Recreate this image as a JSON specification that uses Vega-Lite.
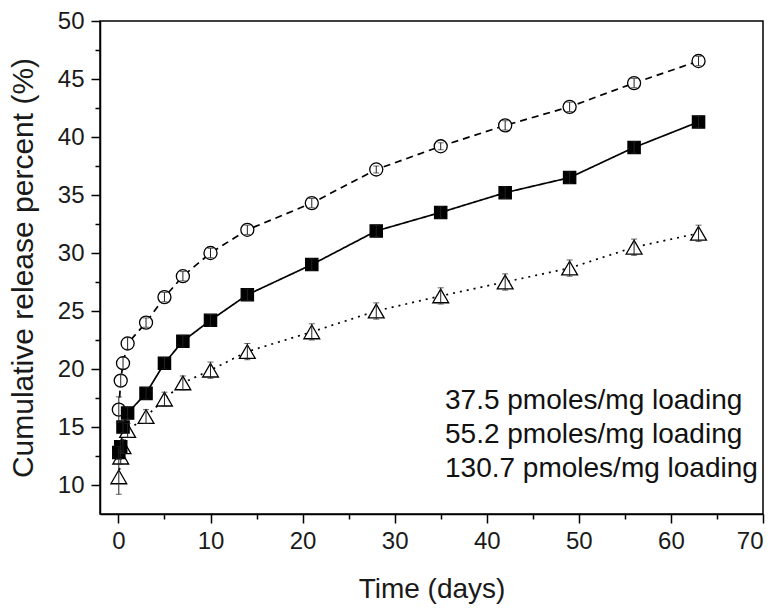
{
  "$schema": "https://vega.github.io/schema/vega-lite/v6.json",
  "width": 663,
  "height": 493,
  "autosize": "none",
  "padding": {"left": 100, "top": 21, "right": 20, "bottom": 96},
  "background": "white",
  "config": {
    "font": "Liberation Sans",
    "view": {"stroke": "black", "strokeWidth": 1.5},
    "axis": {
      "grid": false,
      "domainColor": "black",
      "domainWidth": 1.5,
      "tickColor": "black",
      "tickWidth": 1.5,
      "labelFont": "Liberation Sans",
      "labelFontSize": 24,
      "labelColor": "#1a1a1a",
      "titleFont": "Liberation Sans",
      "titleFontSize": 28,
      "titleFontWeight": "normal",
      "titleColor": "#1a1a1a",
      "labelOverlap": false,
      "labelBound": false
    }
  },
  "data": {
    "values": [
      {"day": 0.042, "value": 12.8, "err": 0.5, "series": "37.5 pmoles/mg loading"},
      {"day": 0.25, "value": 13.3, "err": 0.5, "series": "37.5 pmoles/mg loading"},
      {"day": 0.5, "value": 15.0, "err": 0.5, "series": "37.5 pmoles/mg loading"},
      {"day": 1, "value": 16.2, "err": 0.5, "series": "37.5 pmoles/mg loading"},
      {"day": 3, "value": 17.9, "err": 0.5, "series": "37.5 pmoles/mg loading"},
      {"day": 5, "value": 20.5, "err": 0.5, "series": "37.5 pmoles/mg loading"},
      {"day": 7, "value": 22.4, "err": 0.5, "series": "37.5 pmoles/mg loading"},
      {"day": 10, "value": 24.2, "err": 0.5, "series": "37.5 pmoles/mg loading"},
      {"day": 14, "value": 26.4, "err": 0.5, "series": "37.5 pmoles/mg loading"},
      {"day": 21, "value": 29.0, "err": 0.5, "series": "37.5 pmoles/mg loading"},
      {"day": 28, "value": 31.9, "err": 0.5, "series": "37.5 pmoles/mg loading"},
      {"day": 35, "value": 33.5, "err": 0.5, "series": "37.5 pmoles/mg loading"},
      {"day": 42, "value": 35.2, "err": 0.5, "series": "37.5 pmoles/mg loading"},
      {"day": 49, "value": 36.5, "err": 0.5, "series": "37.5 pmoles/mg loading"},
      {"day": 56, "value": 39.1, "err": 0.5, "series": "37.5 pmoles/mg loading"},
      {"day": 63, "value": 41.3, "err": 0.5, "series": "37.5 pmoles/mg loading"},
      {"day": 0.042, "value": 16.5, "err": 1.1, "series": "55.2 pmoles/mg loading"},
      {"day": 0.25, "value": 19.0, "err": 0.5, "series": "55.2 pmoles/mg loading"},
      {"day": 0.5, "value": 20.5, "err": 0.5, "series": "55.2 pmoles/mg loading"},
      {"day": 1, "value": 22.2, "err": 0.5, "series": "55.2 pmoles/mg loading"},
      {"day": 3, "value": 24.0, "err": 0.4, "series": "55.2 pmoles/mg loading"},
      {"day": 5, "value": 26.2, "err": 0.4, "series": "55.2 pmoles/mg loading"},
      {"day": 7, "value": 28.0, "err": 0.4, "series": "55.2 pmoles/mg loading"},
      {"day": 10, "value": 30.0, "err": 0.4, "series": "55.2 pmoles/mg loading"},
      {"day": 14, "value": 32.0, "err": 0.4, "series": "55.2 pmoles/mg loading"},
      {"day": 21, "value": 34.3, "err": 0.4, "series": "55.2 pmoles/mg loading"},
      {"day": 28, "value": 37.2, "err": 0.3, "series": "55.2 pmoles/mg loading"},
      {"day": 35, "value": 39.2, "err": 0.3, "series": "55.2 pmoles/mg loading"},
      {"day": 42, "value": 41.0, "err": 0.4, "series": "55.2 pmoles/mg loading"},
      {"day": 49, "value": 42.6, "err": 0.4, "series": "55.2 pmoles/mg loading"},
      {"day": 56, "value": 44.65, "err": 0.4, "series": "55.2 pmoles/mg loading"},
      {"day": 63, "value": 46.55, "err": 0.4, "series": "55.2 pmoles/mg loading"},
      {"day": 0.042, "value": 10.7, "err": 1.5, "series": "130.7 pmoles/mg loading"},
      {"day": 0.25, "value": 12.4, "err": 0.6, "series": "130.7 pmoles/mg loading"},
      {"day": 0.5, "value": 13.3, "err": 0.6, "series": "130.7 pmoles/mg loading"},
      {"day": 1, "value": 14.7, "err": 0.6, "series": "130.7 pmoles/mg loading"},
      {"day": 3, "value": 15.9, "err": 0.6, "series": "130.7 pmoles/mg loading"},
      {"day": 5, "value": 17.4, "err": 0.6, "series": "130.7 pmoles/mg loading"},
      {"day": 7, "value": 18.8, "err": 0.6, "series": "130.7 pmoles/mg loading"},
      {"day": 10, "value": 19.9, "err": 0.7, "series": "130.7 pmoles/mg loading"},
      {"day": 14, "value": 21.5, "err": 0.7, "series": "130.7 pmoles/mg loading"},
      {"day": 21, "value": 23.2, "err": 0.7, "series": "130.7 pmoles/mg loading"},
      {"day": 28, "value": 25.0, "err": 0.7, "series": "130.7 pmoles/mg loading"},
      {"day": 35, "value": 26.3, "err": 0.7, "series": "130.7 pmoles/mg loading"},
      {"day": 42, "value": 27.5, "err": 0.7, "series": "130.7 pmoles/mg loading"},
      {"day": 49, "value": 28.7, "err": 0.7, "series": "130.7 pmoles/mg loading"},
      {"day": 56, "value": 30.5, "err": 0.7, "series": "130.7 pmoles/mg loading"},
      {"day": 63, "value": 31.7, "err": 0.7, "series": "130.7 pmoles/mg loading"}
    ]
  },
  "encoding": {
    "x": {
      "field": "day",
      "type": "quantitative",
      "scale": {"domain": [-2, 70], "nice": false, "zero": false},
      "axis": {
        "title": "Time (days)",
        "values": [0, 5, 10, 15, 20, 25, 30, 35, 40, 45, 50, 55, 60, 65, 70],
        "labelExpr": "datum.value % 10 === 0 ? datum.label : ''",
        "tickSize": {"condition": {"test": "datum.value % 10 === 0", "value": 9}, "value": 5},
        "labelPadding": 6,
        "titlePadding": 22
      }
    },
    "y": {
      "field": "value",
      "type": "quantitative",
      "scale": {"domain": [7.5, 50], "nice": false, "zero": false},
      "axis": {
        "title": "Cumulative release percent (%)",
        "titleFontSize": 30,
        "values": [10, 12.5, 15, 17.5, 20, 22.5, 25, 27.5, 30, 32.5, 35, 37.5, 40, 42.5, 45, 47.5, 50],
        "labelExpr": "datum.value % 5 === 0 ? datum.label : ''",
        "tickSize": {"condition": {"test": "datum.value % 5 === 0", "value": 9}, "value": 5},
        "labelPadding": 7,
        "titlePadding": 19
      }
    }
  },
  "layer": [
    {
      "mark": {"type": "line", "color": "black", "strokeWidth": 1.7},
      "encoding": {
        "detail": {"field": "series", "type": "nominal"},
        "strokeDash": {
          "condition": [
            {"test": "datum.series === '55.2 pmoles/mg loading'", "value": [7, 5]},
            {"test": "datum.series === '130.7 pmoles/mg loading'", "value": [2, 5]}
          ],
          "value": [1, 0]
        }
      }
    },
    {
      "transform": [{"filter": "datum.series === '55.2 pmoles/mg loading'"}],
      "mark": {"type": "point", "filled": true, "fill": "white", "stroke": "black", "strokeWidth": 1.3, "opacity": 1, "size": 170},
      "encoding": {
        "shape": {
          "field": "series",
          "type": "nominal",
          "scale": {
            "domain": ["37.5 pmoles/mg loading", "55.2 pmoles/mg loading", "130.7 pmoles/mg loading"],
            "range": ["square", "circle", "triangle-up"]
          },
          "legend": {
            "title": null,
            "orient": "none",
            "legendX": 291,
            "legendY": 366,
            "padding": 0,
            "labelFont": "Liberation Sans",
            "labelFontSize": 28,
            "labelColor": "#111111",
            "labelLimit": 400,
            "labelOffset": 26,
            "rowPadding": 6,
            "symbolSize": 144,
            "symbolStrokeWidth": 1.5,
            "symbolStrokeColor": "black",
            "symbolFillColor": "white",
            "symbolOpacity": 1,
            "encode": {
              "symbols": {
                "shape": {
                  "condition": [
                    {"test": "datum.value === '37.5 pmoles/mg loading'", "value": "M-5,0H-1M1,0H5M-1,-1H1V1H-1Z"},
                    {"test": "datum.value === '55.2 pmoles/mg loading'", "value": "M-5,0H-4.1M-2.8,0H-1.7M1.7,0H2.8M4.1,0H5M1.1,0A1.1,1.1,0,1,1,-1.1,0A1.1,1.1,0,1,1,1.1,0Z"}
                  ],
                  "value": "M-5,0H-4.75M-4,0H-3.75M-3,0H-2.75M-2,0H-1.75M1.75,0H2M2.75,0H3M3.75,0H4M4.75,0H5M0,-1.2L1.25,0.95H-1.25Z"
                },
                "fill": {"condition": {"test": "datum.value === '37.5 pmoles/mg loading'", "value": "black"}, "value": "white"},
                "stroke": {"value": "black"},
                "strokeWidth": {"value": 1.5},
                "size": {"value": 144},
                "opacity": {"value": 1},
                "fillOpacity": {"value": 1},
                "strokeOpacity": {"value": 1}
              }
            }
          }
        }
      }
    },
    {
      "transform": [{"filter": "datum.series === '130.7 pmoles/mg loading'"}],
      "mark": {"type": "point", "shape": "triangle-up", "filled": true, "fill": "white", "stroke": "black", "strokeWidth": 1.3, "opacity": 1, "size": 250}
    },
    {
      "transform": [{"filter": "datum.series === '37.5 pmoles/mg loading'"}],
      "mark": {"type": "point", "shape": "square", "filled": true, "fill": "black", "stroke": "black", "strokeWidth": 1.3, "opacity": 1, "size": 150}
    },
    {
      "mark": {"type": "errorbar", "color": "#222222", "thickness": 1, "ticks": {"size": 6}},
      "encoding": {
        "yError": {"field": "err"}
      }
    }
  ]
}
